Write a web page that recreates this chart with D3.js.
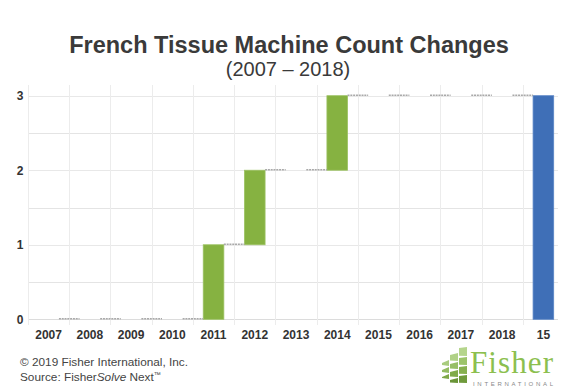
<!DOCTYPE html>
<html>
<head>
<meta charset="utf-8">
<script src="https://cdn.jsdelivr.net/npm/d3@7"></script>
<style>
  html, body { margin: 0; padding: 0; background: #fff; }
  svg { display: block; font-family: "Liberation Sans", Arial, sans-serif; }
</style>
</head>
<body>
<svg id="chart" width="578" height="391"></svg>
<script>
// ---- data ----
const categories = ["2007","2008","2009","2010","2011","2012","2013","2014","2015","2016","2017","2018","15"];
const changes    = [0, 0, 0, 0, 1, 1, 0, 1, 0, 0, 0, 0];   // yearly change in machine count
const totalValue = 3;                                     // final total bar
const yTicks     = [0, 1, 2, 3];
const yMinor     = [0.5, 1.5, 2.5];
const titleText  = "French Tissue Machine Count Changes";
const subtitleText = "(2007 \u2013 2018)";

// ---- layout ----
const svg = d3.select("#chart");
const plotLeft = 28, plotRight = 558, plotTop = 85;
const x = d3.scaleBand().domain(categories).range([28, 564]).paddingInner(0).paddingOuter(0);
const y = d3.scaleLinear().domain([0, 3]).range([319.3, 95.7]);
const barW = x.bandwidth() * 0.5;

// waterfall segments
let cum = 0;
const segs = changes.map((d, i) => {
  const s = { cat: categories[i], start: cum, end: cum + d, type: "change" };
  cum += d;
  return s;
});
segs.push({ cat: categories[categories.length - 1], start: 0, end: totalValue, type: "total" });

// ---- title ----
svg.append("text").attr("x", 289).attr("y", 53).attr("text-anchor", "middle")
  .attr("font-size", 23.5).attr("font-weight", "bold").attr("fill", "#3a3a3a").text(titleText);
svg.append("text").attr("x", 288).attr("y", 76).attr("text-anchor", "middle")
  .attr("font-size", 20).attr("fill", "#3a3a3a").text(subtitleText);

// ---- grid ----
const grid = svg.append("g");
grid.selectAll("line.minor").data(yMinor).join("line")
  .attr("x1", plotLeft).attr("x2", plotRight)
  .attr("y1", d => Math.round(y(d)) + 0.5).attr("y2", d => Math.round(y(d)) + 0.5)
  .attr("stroke", "#e4e4e4").attr("stroke-width", 1);
grid.selectAll("line.major").data(yTicks).join("line")
  .attr("x1", plotLeft).attr("x2", plotRight)
  .attr("y1", d => Math.round(y(d)) + 0.5).attr("y2", d => Math.round(y(d)) + 0.5)
  .attr("stroke", d => d === 0 ? "#dcdcdc" : "#e8e8e8").attr("stroke-width", 1);
grid.selectAll("line.v").data(categories).join("line")
  .attr("x1", d => Math.round(x(d)) + 0.5).attr("x2", d => Math.round(x(d)) + 0.5)
  .attr("y1", plotTop).attr("y2", 325)
  .attr("stroke", "#ececec").attr("stroke-width", 1);

// ---- bars ----
svg.append("g").selectAll("rect").data(segs.filter(s => s.end !== s.start)).join("rect")
  .attr("x", d => x(d.cat) + (x.bandwidth() - barW) / 2)
  .attr("width", barW)
  .attr("y", d => y(Math.max(d.start, d.end)))
  .attr("height", d => Math.abs(y(d.start) - y(d.end)))
  .attr("fill", d => d.type === "total" ? "#3f6fb7" : "#86b241")
  .attr("stroke", d => d.type === "total" ? "#5b86c6" : "#9cc262")
  .attr("stroke-width", 0.8);

// ---- connectors ----
const conns = segs.slice(0, -1).map((s, i) => ({ from: s.cat, to: segs[i + 1].cat, level: s.end }));
svg.append("g").selectAll("line").data(conns).join("line")
  .attr("x1", d => x(d.from) + (x.bandwidth() + barW) / 2)
  .attr("x2", d => x(d.to) + (x.bandwidth() - barW) / 2)
  .attr("y1", d => y(d.level) - 0.5).attr("y2", d => y(d.level) - 0.5)
  .attr("stroke", "#a9a9a9").attr("stroke-width", 1.6).attr("stroke-dasharray", "2,0.8");

// ---- axis labels ----
svg.append("g").selectAll("text").data(yTicks).join("text")
  .attr("x", 20).attr("y", d => y(d) + 4.5).attr("text-anchor", "middle")
  .attr("font-size", 12).attr("font-weight", "bold").attr("fill", "#333").text(d => d);
svg.append("g").selectAll("text").data(categories).join("text")
  .attr("x", d => x(d) + x.bandwidth() / 2).attr("y", 339).attr("text-anchor", "middle")
  .attr("font-size", 12).attr("font-weight", "bold").attr("fill", "#333").text(d => d);

// ---- footer ----
svg.append("text").attr("x", 20).attr("y", 366).attr("font-size", 11.8).attr("fill", "#444")
  .text("\u00A9 2019 Fisher International, Inc.");
const src = svg.append("text").attr("x", 20).attr("y", 381).attr("font-size", 11.8).attr("fill", "#444");
src.append("tspan").text("Source: Fisher");
src.append("tspan").attr("font-style", "italic").text("Solve");
src.append("tspan").text(" Next");
src.append("tspan").attr("font-size", 7).attr("dy", -4).text("\u2122");

// ---- logo ----
const logo = svg.append("g");
const tiles = [
  // [x, yTop, w, h, color]  (decorative block grid)
  [459, 347, 8, 9, "#b5d58c"], [459, 357, 8, 8, "#9cc46a"], [459, 366, 8, 8, "#86b04f"], [459, 375, 8, 8, "#6f9a3c"],
  [450, 353, 8, 8, "#b0d186"], [450, 362, 8, 7, "#97bf66"], [450, 370, 8, 7, "#80ab4a"], [450, 378, 8, 5, "#6a9538"],
  [442, 360, 7, 6, "#a9cc7e"], [442, 367, 7, 6, "#93bb61"], [442, 374, 7, 5, "#7ea848"]
];
logo.selectAll("polygon").data(tiles).join("polygon")
  .attr("points", d => {
    const [tx, ty, w, h] = d; const sk = (467 - tx) * 0.12;
    return [[tx, ty + sk], [tx + w, ty], [tx + w, ty + h], [tx, ty + h - sk * 0.3]].map(p => p.join(",")).join(" ");
  })
  .attr("fill", d => d[4]);
logo.append("text").attr("x", 470).attr("y", 373).attr("font-family", "Liberation Serif, serif")
  .attr("font-size", 31).attr("fill", "#8cbf4f").attr("textLength", 83).text("Fisher");
logo.append("text").attr("x", 473).attr("y", 386).attr("font-size", 6).attr("fill", "#888")
  .attr("textLength", 80).attr("lengthAdjust", "spacing").text("INTERNATIONAL");
</script>
</body>
</html>
